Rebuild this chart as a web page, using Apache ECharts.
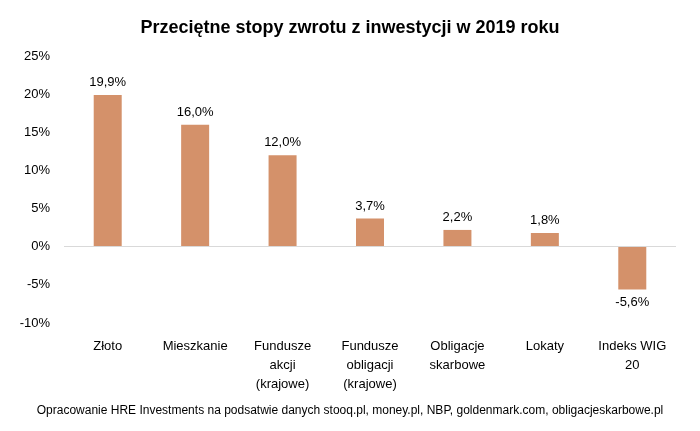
<!DOCTYPE html><html><head><meta charset="utf-8">
<script src="https://cdn.jsdelivr.net/npm/echarts@6/dist/echarts.min.js"></script>
<style>html,body{margin:0;padding:0;background:#fff}#c{width:700px;height:431px}</style></head>
<body><div id="c"></div><script>
const categories=["Złoto","Mieszkanie","Fundusze\nakcji\n(krajowe)","Fundusze\nobligacji\n(krajowe)","Obligacje\nskarbowe","Lokaty","Indeks WIG\n20"];
const values=[19.9,16.0,12.0,3.7,2.2,1.8,-5.6];
const yTicks={min:-10,max:25,interval:5};
const F="Liberation Sans";
const chart=echarts.init(document.getElementById('c'));
chart.setOption({
 animation:false,
 title:{text:"Przeciętne stopy zwrotu z inwestycji w 2019 roku",left:'center',top:14,textStyle:{fontFamily:F,fontSize:18,fontWeight:'bold',color:'#000'}},
 graphic:[{type:'text',left:'center',top:405,style:{text:"Opracowanie HRE Investments na podsatwie danych stooq.pl, money.pl, NBP, goldenmark.com, obligacjeskarbowe.pl",fontFamily:F,fontSize:12,fill:'#000'}}],
 grid:{left:64,right:24,top:56,bottom:108},
 xAxis:{type:'category',data:categories,position:'bottom',axisLine:{show:false},axisTick:{show:false},
  axisLabel:{interval:0,fontFamily:F,fontSize:13,color:'#000',lineHeight:19,margin:14}},
 yAxis:{type:'value',min:yTicks.min,max:yTicks.max,interval:yTicks.interval,splitLine:{show:false},axisLine:{show:false},axisTick:{show:false},
  axisLabel:{formatter:v=>v+'%',fontFamily:F,fontSize:13,color:'#000',margin:14}},
 series:[{type:'bar',data:values,barWidth:28,itemStyle:{color:'#D4916A'},
  label:{show:true,position:'top',fontFamily:F,fontSize:13,color:'#000',distance:6,
   formatter:p=>p.value.toFixed(1).replace('.',',')+'%'},
  labelLayout:null,
  markLine:{silent:true,symbol:'none',label:{show:false},lineStyle:{color:'#d9d9d9',type:'solid',width:1},data:[{yAxis:0}]}
 }]
});
chart.setOption({series:[{data:values.map(v=>v<0?{value:v,label:{position:'bottom'}}:v)}]});
</script></body></html>
